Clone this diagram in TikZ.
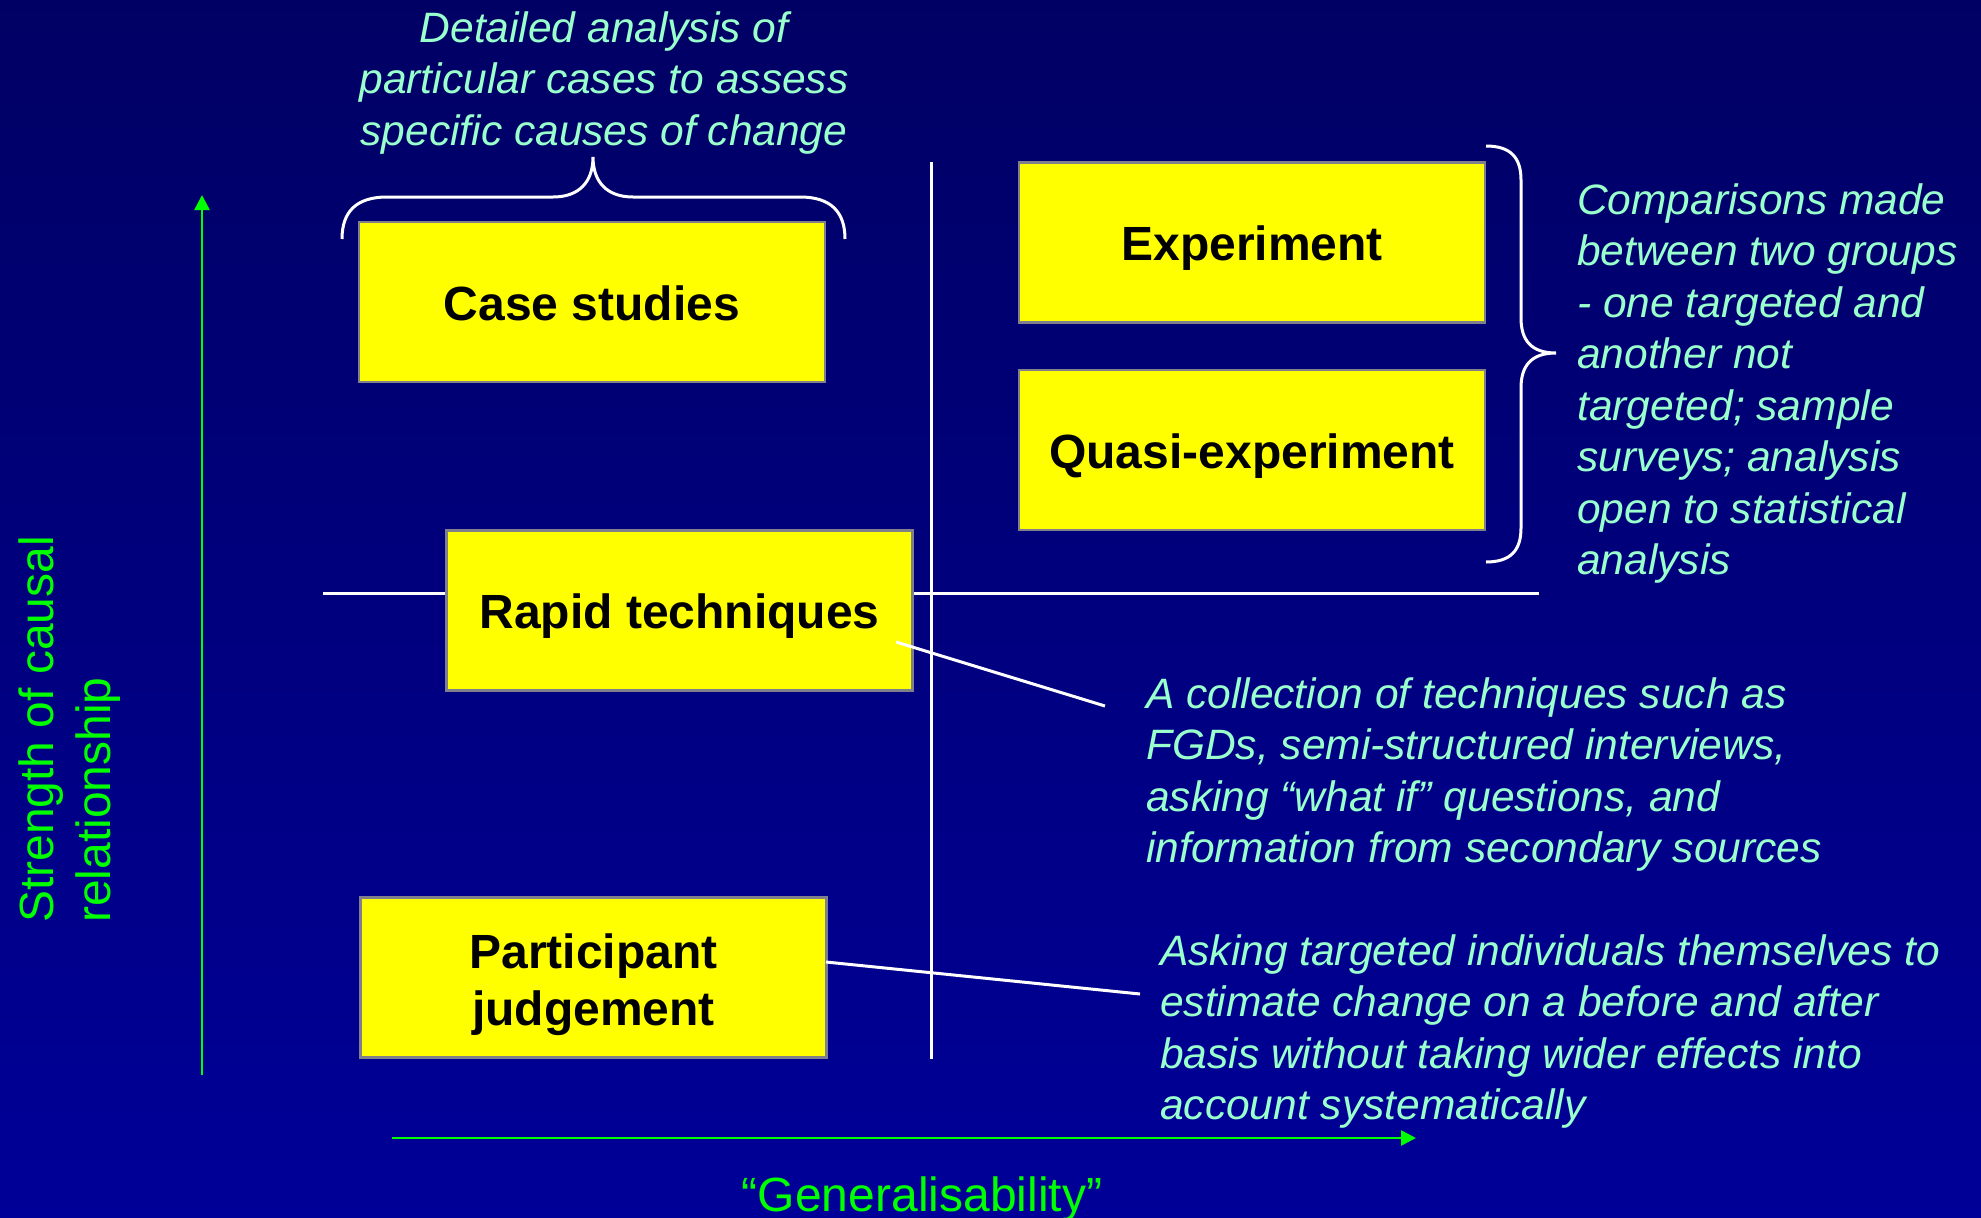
\documentclass[tikz,border=0pt]{standalone}
\usepackage{fontspec}
\setmainfont{Liberation Sans}
\usetikzlibrary{arrows.meta}
\definecolor{mint}{RGB}{153,255,204}
\definecolor{axisgreen}{RGB}{0,255,0}
\definecolor{bgtop}{RGB}{0,0,100}
\definecolor{bgbot}{RGB}{0,0,152}
\definecolor{boxedge}{RGB}{128,128,140}
\definecolor{boxfill}{RGB}{255,255,0}
\begin{document}
\begin{tikzpicture}[x=1pt,y=-1pt,
  stepbox/.style={draw=boxedge, fill=boxfill, line width=2.5pt, minimum width=466pt, minimum height=160pt,
    font=\fontsize{48}{57}\selectfont\bfseries, text=black, inner sep=0pt},
  oneline/.style={text height=36pt, text depth=0pt},
  callout/.style={text=mint, font=\fontsize{42.5}{51.5}\selectfont\itshape, inner sep=0pt},
  axislabel/.style={text=axisgreen, font=\fontsize{48}{57}\selectfont, inner sep=0pt},
  whiteline/.style={draw=white, line width=3pt},
  bracepath/.style={draw=white, line width=3pt},
  axisarrow/.style={draw=axisgreen, line width=2.6pt, -{Triangle[length=15pt,width=15pt]}}]
\useasboundingbox (0,0) rectangle (1981,1218);
\shade[top color=bgtop, bottom color=bgbot] (0,0) rectangle (1981,1218);

% quadrant lines
\coordinate (vl-top) at (931,162);
\coordinate (vl-bot) at (931,1059);
\coordinate (hl-l) at (323,593);
\coordinate (hl-r) at (1539,593);
\draw[whiteline] (vl-top) -- (vl-bot);
\draw[whiteline] (hl-l) -- (hl-r);

% boxes
\node[stepbox, oneline] (case) at (592,302) {Case studies};
\node[stepbox, oneline] (exp) at (1252,242.5) {Experiment};
\node[stepbox, oneline] (quasi) at (1252,450) {Quasi-experiment};
\node[stepbox, oneline] (rapid) at (679.5,610.5) {Rapid techniques};
\node[stepbox, align=center, text height=105pt, text depth=10pt] (part) at (593.5,977.5) {Participant\\judgement};

% braces
\draw[bracepath] (342,239) .. controls (342,212) and (356,197) .. (387,197)
  -- (553,197) .. controls (579,197) and (593,182) .. (593,157)
  .. controls (593,182) and (607,197) .. (633,197)
  -- (800,197) .. controls (831,197) and (845,212) .. (845,239);
\draw[bracepath] (1486,146) .. controls (1511,146) and (1521,158) .. (1521,180)
  -- (1521,318) .. controls (1521,340) and (1531,353) .. (1556,353)
  .. controls (1531,353) and (1521,366) .. (1521,388)
  -- (1521,528) .. controls (1521,550) and (1511,562) .. (1486,562);

% callout connectors
\coordinate (rapid-pt) at (896,642);
\coordinate (rapid-tip) at (1105,706);
\draw[whiteline] (rapid-pt) -- (rapid-tip);
\coordinate (part-pt) at (826,962);
\coordinate (part-tip) at (1140,994);
\draw[whiteline] (part-pt) -- (part-tip);

% notes (anchored at the baseline of their last line)
\node[callout, align=center, anchor=base] (topnote) at (604,145)
  {Detailed analysis of\\particular cases to assess\\specific causes of change};
\node[callout, align=left, anchor=base west] (cmpnote) at (1577,574.5)
  {Comparisons made\\between two groups\\- one targeted and\\another not\\targeted; sample\\surveys; analysis\\open to statistical\\analysis};
\node[callout, align=left, anchor=base west] (rapidnote) at (1146,862.5)
  {A collection of techniques such as\\FGDs, semi-structured interviews,\\asking “what if” questions, and\\information from secondary sources};
\node[callout, align=left, anchor=base west] (partnote) at (1160,1119.5)
  {Asking targeted individuals themselves to\\estimate change on a before and after\\basis without taking wider effects into\\account systematically};

% axes
\coordinate (yax-s) at (202,1075);
\coordinate (yax-e) at (202,195);
\draw[axisarrow] (yax-s) -- (yax-e);
\coordinate (xax-s) at (392,1138);
\coordinate (xax-e) at (1416,1138);
\draw[axisarrow] (xax-s) -- (xax-e);
\node[axislabel, rotate=90, align=left, anchor=base west] (ylab) at (110,923)
  {Strength of causal\\relationship};
\node[axislabel, anchor=base] (xlab) at (922,1211) {“Generalisability”};
\end{tikzpicture}
\end{document}
